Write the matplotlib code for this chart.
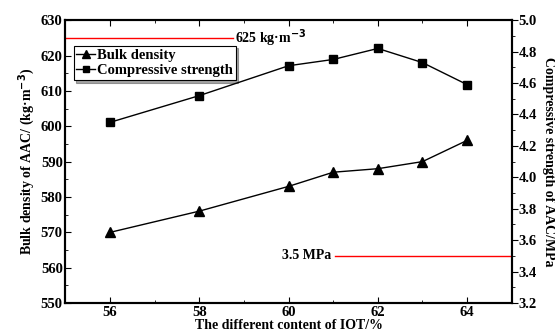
import matplotlib.pyplot as plt
from matplotlib.ticker import MultipleLocator

plt.rcParams['font.family'] = ['Liberation Serif', 'DejaVu Serif']
plt.rcParams['font.weight'] = 'bold'
plt.rcParams['mathtext.default'] = 'bf'

content = [56, 58, 60, 61, 62, 63, 64]
bulk_density = [570, 576, 583, 587, 588, 590, 596]
strength = [4.35, 4.52, 4.71, 4.75, 4.82, 4.73, 4.59]
density_limit = 625
strength_limit = 3.5

fig, ax = plt.subplots(figsize=(5.55, 3.36), dpi=100)
fig.subplots_adjust(left=0.118, right=0.922, top=0.94, bottom=0.098)
ax2 = ax.twinx()

l1, = ax.plot(content, bulk_density, '-^', color='black', lw=1, ms=7,
              label='Bulk density')
l2, = ax2.plot(content, strength, '-s', color='black', lw=1, ms=6,
               label='Compressive strength')

ax.plot([55, 58.75], [density_limit, density_limit], color='red', lw=1)
ax.text(58.8, density_limit, '625 kg·m$^{-3}$', fontsize=10, fontweight='bold',
        va='center', ha='left')
ax2.plot([61.05, 65], [strength_limit, strength_limit], color='red', lw=1)
ax2.text(60.95, strength_limit, '3.5 MPa', fontsize=10, fontweight='bold',
         va='center', ha='right')

ax.set_xlim(55, 65)
ax.set_ylim(550, 630)
ax2.set_ylim(3.2, 5.0)
ax.xaxis.set_major_locator(MultipleLocator(2))
ax.xaxis.set_minor_locator(MultipleLocator(1))
ax.yaxis.set_major_locator(MultipleLocator(10))
ax.yaxis.set_minor_locator(MultipleLocator(5))
ax2.yaxis.set_major_locator(MultipleLocator(0.2))
ax2.yaxis.set_minor_locator(MultipleLocator(0.1))

ax.tick_params(which='both', direction='in', top=True, labelsize=10.5, pad=2)
ax.tick_params(which='major', length=4)
ax.tick_params(which='minor', length=2)
ax2.tick_params(which='both', direction='out', labelsize=10.5, pad=1)
ax2.tick_params(which='major', length=4)
ax2.tick_params(which='minor', length=2)
for a in (ax, ax2):
    for s in a.spines.values():
        s.set_linewidth(1.5)

ax.set_xlabel('The different content of IOT/%', fontsize=10, fontweight='bold',
              labelpad=0)
ax.set_ylabel('Bulk density of AAC/ (kg·m$^{-3}$)', fontsize=10,
              fontweight='bold', labelpad=3)
ax2.set_ylabel('Compressive strength of AAC/MPa', fontsize=10,
               fontweight='bold', rotation=270, labelpad=13)

leg = ax.legend(handles=[l1, l2], loc='upper left', bbox_to_anchor=(0.018, 0.91),
                fontsize=10.5, frameon=True, fancybox=False, shadow=True,
                handlelength=1.3, handletextpad=0.1, borderpad=0.2,
                labelspacing=0.15, borderaxespad=0, markerscale=0.8)
leg.get_frame().set_edgecolor('black')
leg.get_frame().set_linewidth(0.8)

fig.savefig('out.png', dpi=100)
